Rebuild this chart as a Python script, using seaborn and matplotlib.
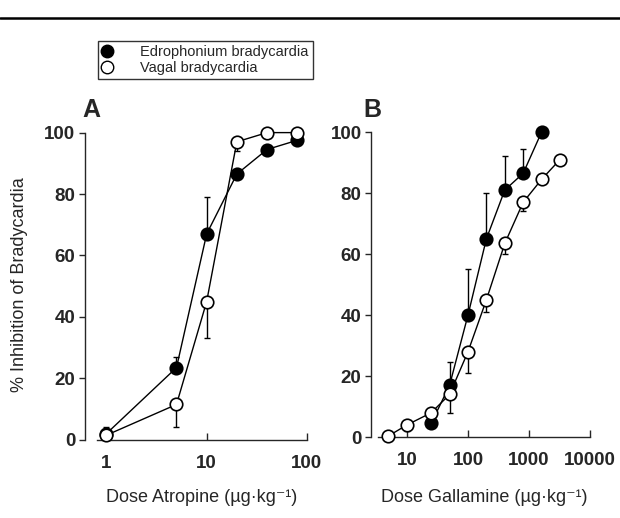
"""Dose-response curves: atropine (A) and gallamine (B) inhibition of bradycardia."""

import matplotlib
matplotlib.use("Agg")
import matplotlib.pyplot as plt
from matplotlib.lines import Line2D
import seaborn as sns

# Panel A - atropine
atro_dose_edro = [1, 5, 10, 20, 40, 80]
atro_edro = [2, 23.5, 67, 86.5, 94.5, 97.5]
atro_edro_err = [2, 3.5, 12, 0, 0, 0]
atro_dose_vagal = [1, 5, 10, 20, 40, 80]
atro_vagal = [1.5, 11.5, 45, 97, 100, 100]
atro_vagal_err = [0, 7.5, 12, 3, 0, 0]

# Panel B - gallamine
gall_dose_edro = [25, 50, 100, 200, 400, 800, 1600]
gall_edro = [4.5, 17, 40, 65, 81, 86.5, 100]
gall_edro_err = [0, 7.5, 15, 15, 11, 8, 0]
gall_dose_vagal = [5, 10, 25, 50, 100, 200, 400, 800, 1600, 3200]
gall_vagal = [0.4, 4, 8, 14, 28, 45, 63.5, 77, 84.5, 91]
gall_vagal_err = [0, 2, 0, 6, 7, 4, 3.5, 3, 0, 0]

yticks = [0, 20, 40, 60, 80, 100]
atro_xticks = [1, 10, 100]
gall_xticks = [10, 100, 1000, 10000]

sns.set_style("ticks")
plt.rcParams["font.family"] = ["Liberation Sans", "DejaVu Sans"]

fig = plt.figure(figsize=(6.2, 5.18), dpi=100)
ax_a = fig.add_axes([0.156, 0.151, 0.339, 0.593])
ax_b = fig.add_axes([0.610, 0.156, 0.342, 0.589])


def draw_series(ax, x, y, err, filled, up):
    sns.lineplot(x=x, y=y, ax=ax, color="black", linewidth=1.0,
                 marker="o", markersize=9,
                 markerfacecolor="black" if filled else "white",
                 markeredgecolor="black", markeredgewidth=1.2,
                 clip_on=False, zorder=3 if filled else 4)
    lo = [0] * len(err) if up else err
    hi = err if up else [0] * len(err)
    ax.errorbar(x, y, yerr=[lo, hi], fmt="none", ecolor="black",
                elinewidth=1.0, capsize=2.5, capthick=1.0, zorder=2,
                clip_on=False)


draw_series(ax_a, atro_dose_edro, atro_edro, atro_edro_err, True, True)
draw_series(ax_a, atro_dose_vagal, atro_vagal, atro_vagal_err, False, False)
draw_series(ax_b, gall_dose_edro, gall_edro, gall_edro_err, True, True)
draw_series(ax_b, gall_dose_vagal, gall_vagal, gall_vagal_err, False, False)

for ax, xticks, xlim, off, pad, xlabel in [
    (ax_a, atro_xticks, (0.8, 100), 8.5, 12, "Dose Atropine (µg·kg⁻¹)"),
    (ax_b, gall_xticks, (3.4, 10000), 5, 14, "Dose Gallamine (µg·kg⁻¹)"),
]:
    # despine first: moving a spine resets the tick labels
    sns.despine(ax=ax, offset={"left": off})
    for s in ["left", "bottom"]:
        ax.spines[s].set_linewidth(1.0)
    ax.set_xscale("log")
    ax.set_xlim(*xlim)
    ax.set_ylim(0, 100)
    ax.xaxis.set_minor_locator(matplotlib.ticker.NullLocator())
    ax.set_xticks(xticks)
    ax.set_xticklabels([str(t) for t in xticks], fontweight="bold",
                       fontsize=13.5)
    ax.set_yticks(yticks)
    ax.set_yticklabels([str(t) for t in yticks], fontweight="bold",
                       fontsize=13.5)
    ax.tick_params(axis="x", direction="in", length=5, width=1, pad=11)
    ax.tick_params(axis="y", direction="out", length=4, width=1, pad=3)
    ax.set_xlabel(xlabel, fontsize=13, labelpad=pad)
    ax.set_ylabel("")
    ax.patch.set_alpha(0)

fig.text(20 / 620, 1 - 285 / 518, "% Inhibition of Bradycardia", rotation=90,
         ha="center", va="center", fontsize=13)
fig.text(82 / 620, 1 - 117 / 518, "A", fontsize=18, fontweight="bold")
fig.text(363 / 620, 1 - 117 / 518, "B", fontsize=18, fontweight="bold")

# rule across the top
fig.add_artist(Line2D([0, 1], [1 - 18 / 518, 1 - 18 / 518], color="black",
                      linewidth=1.8))

handles = [
    Line2D([], [], linestyle="none", marker="o", markersize=9,
           markerfacecolor="black", markeredgecolor="black"),
    Line2D([], [], linestyle="none", marker="o", markersize=9,
           markerfacecolor="white", markeredgecolor="black"),
]
leg = fig.legend(handles, ["Edrophonium bradycardia", "Vagal bradycardia"],
                 loc="upper left", bbox_to_anchor=(98 / 620, 1 - 41 / 518),
                 fontsize=10.5, frameon=True, fancybox=False, borderpad=0.3,
                 handletextpad=2.0, handlelength=0.6, labelspacing=0.1,
                 borderaxespad=0)
leg.get_frame().set_edgecolor("black")
leg.get_frame().set_linewidth(1.0)

fig.savefig("out.png", dpi=100)
